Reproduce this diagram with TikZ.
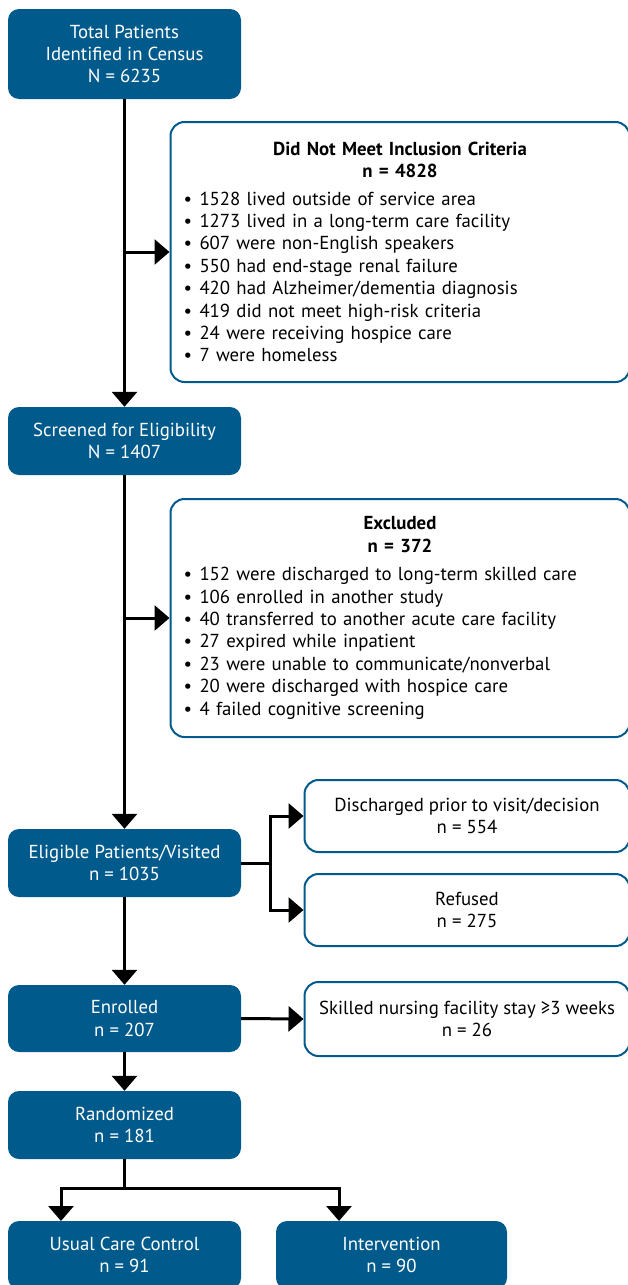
\documentclass[tikz,border=0pt]{standalone}
\usepackage{fontspec}
\setmainfont{PT Sans}
\usetikzlibrary{arrows.meta}
\definecolor{flowblue}{RGB}{0,90,140}
\tikzset{
  bluebox/.style={fill=flowblue, text=white, rounded corners=11pt, inner sep=0pt, align=center, font=\fontsize{18.8}{22.4}\selectfont},
  whitebox/.style={draw=flowblue, line width=2pt, fill=white, rounded corners=14pt, inner sep=0pt, align=center, font=\fontsize{18.8}{22.4}\selectfont},
  listbox/.style={whitebox, align=left, text width=433pt, minimum width=459pt},
  flowarrow/.style={line width=3pt, -{Triangle[length=15pt,width=25pt]}},
  flowline/.style={line width=3pt},
}
\newcommand{\itm}[1]{\makebox[16pt][l]{\textbullet}#1\\}
\begin{document}
\begin{tikzpicture}[x=1pt,y=-1pt]
  \useasboundingbox (0,0) rectangle (628,1285);
  % main column
  \node[bluebox, minimum width=233pt, minimum height=90pt] (total) at (124.5,54) {Total Patients\\Identified in Census\\N = 6235};
  \node[listbox, minimum height=260pt] (notmet) at (400,252) {%
    {\centering\bfseries Did Not Meet Inclusion Criteria\\n = 4828\par}\vspace{5pt}%
    \itm{1528 lived outside of service area}%
    \itm{1273 lived in a long-term care facility}%
    \itm{607 were non-English speakers}%
    \itm{550 had end-stage renal failure}%
    \itm{420 had Alzheimer/dementia diagnosis}%
    \itm{419 did not meet high-risk criteria}%
    \itm{24 were receiving hospice care}%
    \makebox[16pt][l]{\textbullet}7 were homeless};
  \node[bluebox, minimum width=233pt, minimum height=68pt] (screened) at (124.5,441) {Screened for Eligibility\\N = 1407};
  \node[listbox, minimum height=238pt] (excluded) at (400,618) {%
    {\centering\bfseries Excluded\\n = 372\par}\vspace{6pt}%
    \itm{152 were discharged to long-term skilled care}%
    \itm{106 enrolled in another study}%
    \itm{40 transferred to another acute care facility}%
    \itm{27 expired while inpatient}%
    \itm{23 were unable to communicate/nonverbal}%
    \itm{20 were discharged with hospice care}%
    \makebox[16pt][l]{\textbullet}4 failed cognitive screening};
  \node[bluebox, minimum width=233pt, minimum height=68pt] (eligible) at (124.5,863) {Eligible Patients/Visited\\n = 1035};
  \node[whitebox, minimum width=325pt, minimum height=72pt] (discharged) at (467,816) {Discharged prior to visit/decision\\n = 554};
  \node[whitebox, minimum width=325pt, minimum height=72pt] (refused) at (467,910) {Refused\\n = 275};
  \node[bluebox, minimum width=233pt, minimum height=67pt] (enrolled) at (124.5,1018.5) {Enrolled\\n = 207};
  \node[whitebox, minimum width=325pt, minimum height=74pt] (skilled) at (467,1019) {Skilled nursing facility stay ≥3 weeks\\n = 26};
  \node[bluebox, minimum width=233pt, minimum height=68pt] (random) at (124.5,1125) {Randomized\\n = 181};
  \node[bluebox, minimum width=233pt, minimum height=68pt] (usual) at (124.5,1255) {Usual Care Control\\n = 91};
  \node[bluebox, minimum width=231pt, minimum height=68pt] (interv) at (391.5,1255) {Intervention\\n = 90};
  \coordinate (split) at (124.5,1188);
  \coordinate (usualin) at (61,1221);
  \coordinate (intervin) at (339,1221);
  % connectors
  \draw[flowarrow] (total.south) -- (screened.north);
  \draw[flowarrow] (total.south |- notmet.west) -- (notmet.west);
  \draw[flowarrow] (screened.south) -- (eligible.north);
  \draw[flowarrow] (screened.south |- excluded.west) -- (excluded.west);
  \draw[flowarrow] (eligible.east) -- ++(29,0) |- (discharged.west);
  \draw[flowarrow] (eligible.east) -- ++(29,0) |- (refused.west);
  \draw[flowarrow] (eligible.south) -- (enrolled.north);
  \draw[flowarrow] (enrolled.east) -- (skilled.west);
  \draw[flowarrow] (enrolled.south) -- (random.north);
  \draw[flowline] (random.south) -- (split);
  \draw[flowarrow] (split) -| (usualin);
  \draw[flowarrow] (split) -| (intervin);
\end{tikzpicture}
\end{document}
